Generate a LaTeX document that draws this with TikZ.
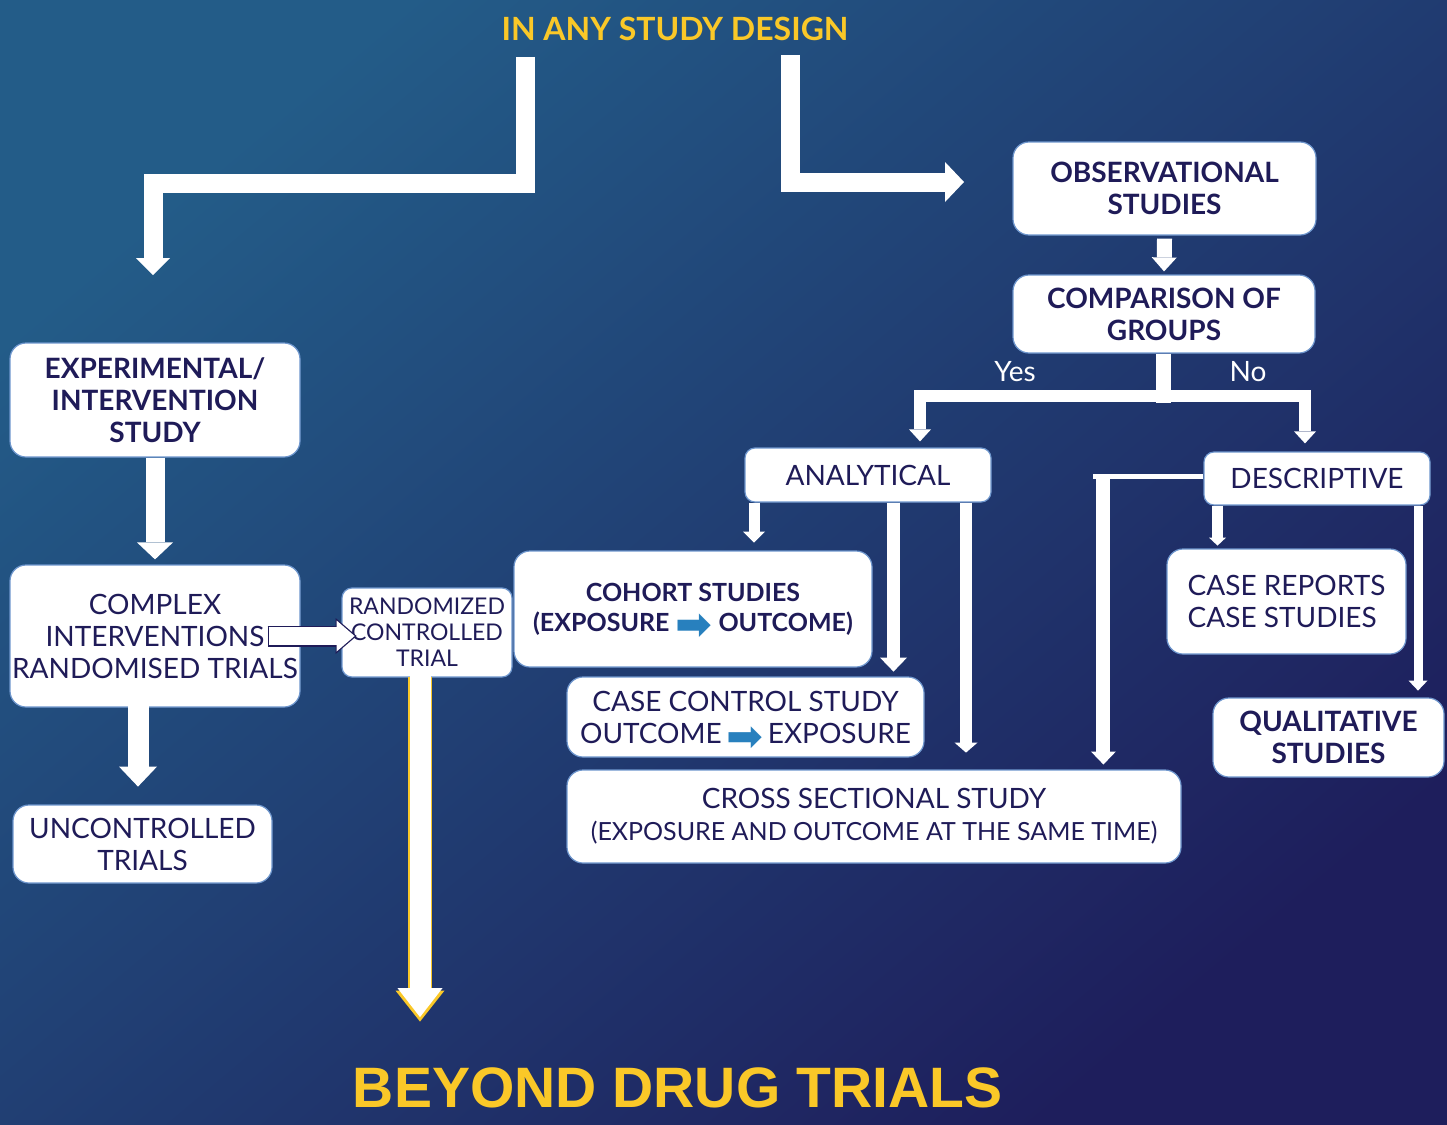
\documentclass[tikz,border=0pt]{standalone}
\usepackage{fontspec}
\setmainfont{Lato}
\newfontfamily\arrowfont{DejaVu Sans}
\newfontfamily\bannerfont{Liberation Sans}
\usepackage{xcolor}
\usepackage{tikz}
\usetikzlibrary{arrows.meta}
\usetikzlibrary{positioning}
\definecolor{bgtop}{RGB}{35,92,136}
\definecolor{bgmid}{RGB}{32,62,112}
\definecolor{bgbot}{RGB}{30,30,92}
\definecolor{ink}{RGB}{31,27,88}
\definecolor{gold}{RGB}{250,200,40}
\definecolor{boxline}{RGB}{110,150,205}
\definecolor{arrowblue}{RGB}{40,128,190}
\newcommand{\blockarr}{\smash{\fontsize{44}{44}\arrowfont\color{arrowblue}\raisebox{-8pt}{➡}}}
\tikzstyle{box}=[draw=boxline,line width=1.2pt,fill=white,rounded corners=16pt,align=center,text=ink,inner sep=0pt,font=\fontsize{28}{32}\selectfont]
\tikzstyle{boldbox}=[box,font=\bfseries\fontsize{28}{32}\selectfont]
\tikzstyle{choice}=[text=white,font=\fontsize{28}{30}\selectfont]
\tikzset{dims/.style 2 args={minimum width=#1pt,minimum height=#2pt}}
\tikzset{flow/.style n args={3}{draw=white,line width=#1,line join=miter,-{Triangle[width=#2,length=#3,line width=0pt]}}}

\begin{document}
\begin{tikzpicture}[x=1pt,y=-1pt]

	\shade[top color=bgtop,middle color=bgmid,bottom color=bgbot,shading angle=40] (0,0) rectangle (1447,1124);
	\useasboundingbox (0,0) rectangle (1447,1124);

	\node[anchor=base,text=gold,font=\bfseries\fontsize{32}{36}\selectfont] (title) at (675,41) {IN ANY STUDY DESIGN};

	\node[boldbox,dims={290}{114}] (exp) at (155,400) {EXPERIMENTAL/\\INTERVENTION\\STUDY};
	\node[box,dims={290}{142}] (cpx) at (155,636) {COMPLEX\\INTERVENTIONS\\RANDOMISED TRIALS};
	\node[box,dims={259}{78}] (unc) at (142.5,844) {UNCONTROLLED\\TRIALS};
	\node[box,dims={170}{89},rounded corners=10pt,font=\fontsize{23}{26}\selectfont] (rct) at (427,632.5) {RANDOMIZED\\CONTROLLED\\TRIAL};

	\node[boldbox,dims={358}{116},font=\bfseries\fontsize{25}{30}\selectfont] (coh) at (693,609) {COHORT STUDIES\\(EXPOSURE \blockarr{} OUTCOME)};
	\node[box,dims={357}{80}] (cc) at (745.5,717) {CASE CONTROL STUDY\\OUTCOME\,\blockarr\,EXPOSURE};
	\node[box,dims={614}{93}] (cs) at (874,816.5) {CROSS SECTIONAL STUDY\\{\fontsize{25}{33}\selectfont (EXPOSURE AND OUTCOME AT THE SAME TIME)}};

	\node[box,dims={246}{54},rounded corners=10pt] (ana) at (868,475) {ANALYTICAL};
	\node[box,dims={226}{53},rounded corners=10pt] (desc) at (1317,478.5) {DESCRIPTIVE};
	\node[box,dims={239}{105},align=left] (cr) at (1286.5,601.5) {CASE REPORTS\\CASE STUDIES};
	\node[boldbox,dims={231}{79}] (qual) at (1328.5,737.5) {QUALITATIVE\\STUDIES};

	\node[boldbox,dims={303}{93}] (obs) at (1164.5,188.5) {OBSERVATIONAL\\STUDIES};
	\node[boldbox,dims={302}{78}] (cmp) at (1164,314) {COMPARISON OF\\GROUPS};

	\node[choice] (yes) at (1015,372) {Yes};
	\node[choice] (no) at (1248,372) {No};

	\node[anchor=base,text=gold,font=\bannerfont\bfseries\fontsize{57}{60}\selectfont] (beyond) at (677.5,1107) {BEYOND DRUG TRIALS};

% % % split at the top
	\coordinate (lstart) at (525,57);
	\coordinate (lend) at (153,275);
	\coordinate (rstart) at (790,55);
	\coordinate (rend) at (964,182);

	\path[draw,flow={19pt}{34pt}{17pt}] (lstart) -- ++(0,126) -| (lend);
	\path[draw,flow={19pt}{40pt}{19pt}] (rstart) |- (rend);

% % % experimental side
	\path[draw,flow={19pt}{36pt}{17pt},shorten >=5pt] (exp.south) -- (cpx.north);
	\path[draw,flow={21pt}{38pt}{20pt}] ([xshift=-17pt,yshift=10pt]cpx.south) -- ++(0,89);

	\path[draw,flow={21pt}{36pt}{21pt},draw=ink] ([xshift=-33pt]cpx.east) -- ++(89,0);
	\path[draw,flow={18pt}{31pt}{18pt}] ([xshift=-32pt]cpx.east) -- ++(86,0);

	\path[draw,flow={24pt}{49pt}{31pt},draw=gold] ([xshift=-7pt,yshift=1pt]rct.south) -- ++(0,345);
	\path[draw,flow={21pt}{45pt}{29pt}] ([xshift=-7pt,yshift=2.5pt]rct.south) -- ++(0,342);

% % % observational side
	\path[draw,flow={15pt}{25pt}{14pt},shorten >=3pt] ([yshift=-3pt]obs.south) -- (cmp.north);

	\coordinate (fork) at (1163,396);
	\path[draw,white,line width=15pt] ([xshift=-1pt]cmp.south) -- ++(0,49);
	\path[draw,flow={12pt}{22pt}{12pt}] (fork) -| ([xshift=52pt,yshift=6pt]ana.north);
	\path[draw,flow={12pt}{22pt}{12pt}] (fork) -| ([xshift=-12pt,yshift=8pt]desc.north);

	\path[draw,flow={11pt}{22pt}{11pt}] ([xshift=-114pt]ana.south) -- ++(0,40);
	\path[draw,flow={13pt}{27pt}{14pt}] ([xshift=25.5pt]ana.south) -- ++(0,169);
	\path[draw,flow={12pt}{23pt}{10pt}] ([xshift=98pt]ana.south) -- ++(0,250);

	\path[draw,white,line width=5pt] ([yshift=2pt]desc.west) -- ++(-110,0);
	\path[draw,flow={14pt}{25pt}{13pt}] ([xshift=-100pt,yshift=2pt]desc.west) -- ++(0,288);
	\path[draw,flow={11pt}{17pt}{8pt}] ([xshift=-99.5pt]desc.south) -- ++(0,40);
	\path[draw,flow={9pt}{19pt}{10pt}] ([xshift=101pt]desc.south) -- ++(0,185);

\end{tikzpicture}
\end{document}
